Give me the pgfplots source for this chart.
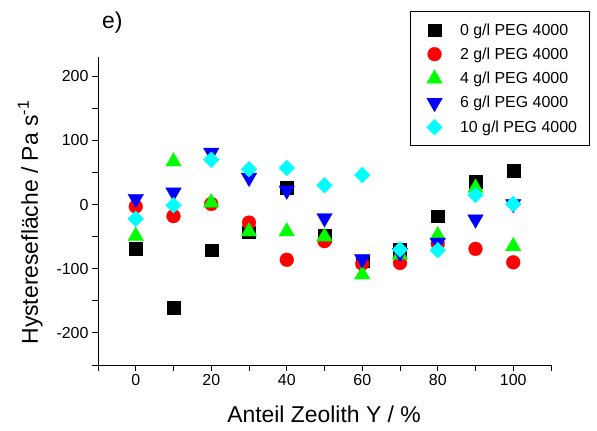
\documentclass[border=0pt]{standalone}
\usepackage{pgfplots}
\pgfplotsset{compat=1.18}
\usepackage{fontspec}
\setmainfont{Liberation Sans}
\definecolor{cRed}{RGB}{255,0,0}
\definecolor{cGreen}{RGB}{0,255,0}
\definecolor{cBlue}{RGB}{0,0,255}
\definecolor{cCyan}{RGB}{0,255,255}
\begin{document}
\begin{tikzpicture}[x=1bp,y=1bp]
\path[use as bounding box] (0,0) rectangle (597,430);
\begin{axis}[
  at={(98bp,65bp)}, anchor=south west,
  scale only axis, width=453bp, height=308bp,
  xmin=-10, xmax=110, ymin=-250, ymax=230,
  axis lines*=left,
  axis line style={line width=1bp},
  xtick={0,20,...,100}, minor xtick={-10,10,...,110},
  ytick={-200,-100,...,200}, minor ytick={-250,-150,...,150},
  tick align=outside,
  major tick length=6bp, minor tick length=6bp,
  tick style={line width=1bp, black},
  /pgf/number format/assume math mode=true,
  ticklabel style={font=\fontsize{16}{19}\selectfont},
  xlabel={Anteil Zeolith Y / \%},
  ylabel={Hysteresefläche / Pa s\textsuperscript{-1}},
  xlabel style={font=\fontsize{23}{27}\selectfont, at={(axis description cs:0.499,-0.188)}, anchor=base},
  ylabel style={font=\fontsize{23}{27}\selectfont, at={(axis description cs:-0.1325,0.4627)}, anchor=base},
  legend image code/.code={\path (-12bp,0bp) (12bp,0bp); \draw plot coordinates {(0bp,0bp)};},
  legend style={at={(1.085,1.149)}, anchor=north east, font=\fontsize{16}{19}\selectfont,
    draw=black, line width=1bp, row sep=7bp, column sep=13bp,
    inner xsep=12bp, inner ysep=10bp,
    nodes={inner xsep=0pt, inner ysep=2bp}},
  legend cell align=left,
  every axis plot/.append style={only marks},
]
\addplot[color=black, mark=square*, mark size=6.4bp, mark options={fill=black, line width=0.3bp}] coordinates {
(0,-69) (10,-160) (20,-71) (30,-43) (40,26) (50,-48) (60,-88) (70,-70) (80,-18) (90,36) (100,53)};
\addlegendentry{0 g/l PEG 4000}
\addplot[color=cRed, mark=*, mark size=6.9bp, mark options={fill=cRed, line width=0.3bp}] coordinates {
(0,-3) (10,-18) (20,1) (30,-28) (40,-86) (50,-57) (60,-92) (70,-91) (80,-61) (90,-69) (100,-90)};
\addlegendentry{2 g/l PEG 4000}
\addplot[color=cGreen, mark=triangle*, mark size=9bp, mark options={fill=cGreen, line width=0.3bp}] coordinates {
(0,-49) (10,67) (20,3) (30,-42) (40,-42) (50,-50) (60,-109) (70,-78) (80,-48) (90,26) (100,-65)};
\addlegendentry{4 g/l PEG 4000}
\addplot[color=cBlue, mark=triangle*, mark size=9bp, mark options={fill=cBlue, line width=0.3bp, rotate=180}] coordinates {
(0,9) (10,19) (20,81) (30,42) (40,22) (50,-21) (60,-85) (70,-75) (80,-59) (90,-23) (100,1)};
\addlegendentry{6 g/l PEG 4000}
\addplot[color=cCyan, mark=square*, mark size=5.6bp, mark options={fill=cCyan, line width=0.3bp, rotate=45}] coordinates {
(0,-22) (10,-1) (20,70) (30,55) (40,57) (50,30) (60,46) (70,-70) (80,-71) (90,15) (100,1)};
\addlegendentry{10 g/l PEG 4000}
\end{axis}
\node[anchor=base west, font=\fontsize{23}{27}\selectfont, inner sep=0pt] at (102,401) {e)};
\end{tikzpicture}
\end{document}
